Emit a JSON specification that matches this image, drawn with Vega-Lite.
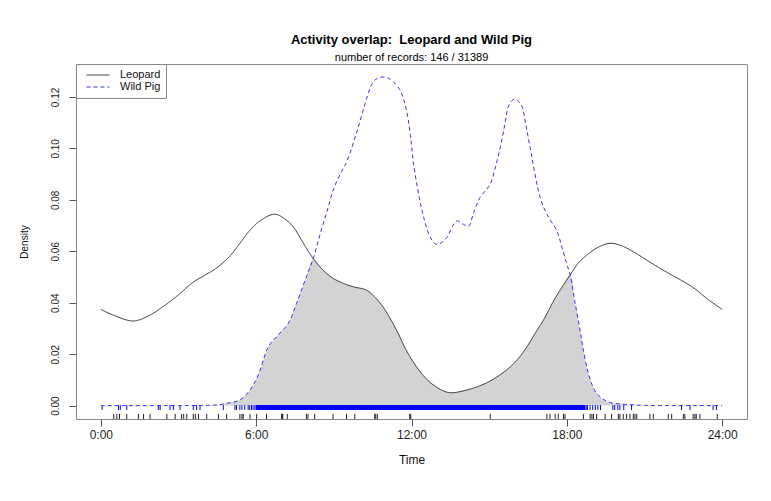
{
  "$schema": "https://vega.github.io/schema/vega-lite/v6.json",
  "width": 671,
  "height": 355,
  "autosize": {"type": "none"},
  "padding": {"left": 76, "top": 64, "right": 24, "bottom": 82},
  "background": "white",
  "title": {
    "text": "Activity overlap:\u00a0\u00a0Leopard and Wild Pig",
    "subtitle": "number of records: 146 / 31389",
    "anchor": "middle",
    "frame": "group",
    "font": "Liberation Sans",
    "fontSize": 13,
    "fontWeight": "bold",
    "color": "black",
    "subtitleFont": "Liberation Sans",
    "subtitleFontSize": 11,
    "subtitleColor": "black",
    "offset": 1,
    "subtitlePadding": 5
  },
  "config": {
    "view": {"stroke": "#888", "strokeWidth": 1},
    "axis": {"grid": false, "labelFont": "Liberation Sans", "titleFont": "Liberation Sans", "labelColor": "#222", "titleColor": "#111", "titleFontWeight": "normal", "tickColor": "#555", "domain": false},
    "legend": {"labelFont": "Liberation Sans"}
  },
  "datasets": {
    "curves": [
      {"hour": 0, "density": 0.0374, "series": "Leopard"},
      {"hour": 0.5, "density": 0.0351, "series": "Leopard"},
      {"hour": 1.26, "density": 0.0329, "series": "Leopard"},
      {"hour": 1.9, "density": 0.0352, "series": "Leopard"},
      {"hour": 2.4, "density": 0.0385, "series": "Leopard"},
      {"hour": 2.93, "density": 0.0425, "series": "Leopard"},
      {"hour": 3.57, "density": 0.048, "series": "Leopard"},
      {"hour": 4.0, "density": 0.0506, "series": "Leopard"},
      {"hour": 4.47, "density": 0.0535, "series": "Leopard"},
      {"hour": 4.99, "density": 0.0582, "series": "Leopard"},
      {"hour": 5.4, "density": 0.0635, "series": "Leopard"},
      {"hour": 5.76, "density": 0.0682, "series": "Leopard"},
      {"hour": 6.2, "density": 0.0722, "series": "Leopard"},
      {"hour": 6.7, "density": 0.0744, "series": "Leopard"},
      {"hour": 7.05, "density": 0.073, "series": "Leopard"},
      {"hour": 7.43, "density": 0.0695, "series": "Leopard"},
      {"hour": 7.8, "density": 0.0635, "series": "Leopard"},
      {"hour": 8.2, "density": 0.0572, "series": "Leopard"},
      {"hour": 8.6, "density": 0.0525, "series": "Leopard"},
      {"hour": 8.97, "density": 0.0495, "series": "Leopard"},
      {"hour": 9.4, "density": 0.0474, "series": "Leopard"},
      {"hour": 9.75, "density": 0.0462, "series": "Leopard"},
      {"hour": 10.26, "density": 0.0449, "series": "Leopard"},
      {"hour": 10.6, "density": 0.042, "series": "Leopard"},
      {"hour": 10.9, "density": 0.0384, "series": "Leopard"},
      {"hour": 11.42, "density": 0.0294, "series": "Leopard"},
      {"hour": 11.8, "density": 0.0215, "series": "Leopard"},
      {"hour": 12.2, "density": 0.015, "series": "Leopard"},
      {"hour": 12.5, "density": 0.0112, "series": "Leopard"},
      {"hour": 12.85, "density": 0.008, "series": "Leopard"},
      {"hour": 13.43, "density": 0.0051, "series": "Leopard"},
      {"hour": 14.14, "density": 0.0061, "series": "Leopard"},
      {"hour": 14.91, "density": 0.0089, "series": "Leopard"},
      {"hour": 15.68, "density": 0.0139, "series": "Leopard"},
      {"hour": 16.1, "density": 0.018, "series": "Leopard"},
      {"hour": 16.46, "density": 0.0229, "series": "Leopard"},
      {"hour": 16.8, "density": 0.0285, "series": "Leopard"},
      {"hour": 17.1, "density": 0.0333, "series": "Leopard"},
      {"hour": 17.45, "density": 0.04, "series": "Leopard"},
      {"hour": 17.74, "density": 0.0449, "series": "Leopard"},
      {"hour": 18.13, "density": 0.0508, "series": "Leopard"},
      {"hour": 18.45, "density": 0.0555, "series": "Leopard"},
      {"hour": 18.77, "density": 0.0585, "series": "Leopard"},
      {"hour": 19.2, "density": 0.0615, "series": "Leopard"},
      {"hour": 19.67, "density": 0.0631, "series": "Leopard"},
      {"hour": 20.1, "density": 0.0622, "series": "Leopard"},
      {"hour": 20.57, "density": 0.0598, "series": "Leopard"},
      {"hour": 21.1, "density": 0.0565, "series": "Leopard"},
      {"hour": 21.6, "density": 0.0534, "series": "Leopard"},
      {"hour": 22.1, "density": 0.0505, "series": "Leopard"},
      {"hour": 22.63, "density": 0.0475, "series": "Leopard"},
      {"hour": 23.0, "density": 0.045, "series": "Leopard"},
      {"hour": 23.4, "density": 0.0417, "series": "Leopard"},
      {"hour": 24.0, "density": 0.0374, "series": "Leopard"},
      {"hour": 0, "density": 0, "series": "Wild Pig"},
      {"hour": 1, "density": 0, "series": "Wild Pig"},
      {"hour": 2, "density": 0, "series": "Wild Pig"},
      {"hour": 3, "density": 0, "series": "Wild Pig"},
      {"hour": 4, "density": 0.0001, "series": "Wild Pig"},
      {"hour": 4.5, "density": 0.0003, "series": "Wild Pig"},
      {"hour": 4.86, "density": 0.0009, "series": "Wild Pig"},
      {"hour": 5.37, "density": 0.0022, "series": "Wild Pig"},
      {"hour": 5.76, "density": 0.0061, "series": "Wild Pig"},
      {"hour": 6.08, "density": 0.0119, "series": "Wild Pig"},
      {"hour": 6.47, "density": 0.0229, "series": "Wild Pig"},
      {"hour": 6.79, "density": 0.0268, "series": "Wild Pig"},
      {"hour": 7.24, "density": 0.032, "series": "Wild Pig"},
      {"hour": 7.56, "density": 0.0398, "series": "Wild Pig"},
      {"hour": 7.94, "density": 0.0501, "series": "Wild Pig"},
      {"hour": 8.2, "density": 0.057, "series": "Wild Pig"},
      {"hour": 8.48, "density": 0.067, "series": "Wild Pig"},
      {"hour": 8.75, "density": 0.076, "series": "Wild Pig"},
      {"hour": 9.0, "density": 0.0845, "series": "Wild Pig"},
      {"hour": 9.3, "density": 0.091, "series": "Wild Pig"},
      {"hour": 9.51, "density": 0.0951, "series": "Wild Pig"},
      {"hour": 9.9, "density": 0.1068, "series": "Wild Pig"},
      {"hour": 10.28, "density": 0.1198, "series": "Wild Pig"},
      {"hour": 10.5, "density": 0.1255, "series": "Wild Pig"},
      {"hour": 10.73, "density": 0.1275, "series": "Wild Pig"},
      {"hour": 11.0, "density": 0.1276, "series": "Wild Pig"},
      {"hour": 11.18, "density": 0.1269, "series": "Wild Pig"},
      {"hour": 11.4, "density": 0.1248, "series": "Wild Pig"},
      {"hour": 11.57, "density": 0.1225, "series": "Wild Pig"},
      {"hour": 11.8, "density": 0.115, "series": "Wild Pig"},
      {"hour": 11.96, "density": 0.105, "series": "Wild Pig"},
      {"hour": 12.08, "density": 0.0939, "series": "Wild Pig"},
      {"hour": 12.3, "density": 0.081, "series": "Wild Pig"},
      {"hour": 12.47, "density": 0.0732, "series": "Wild Pig"},
      {"hour": 12.7, "density": 0.066, "series": "Wild Pig"},
      {"hour": 12.92, "density": 0.0628, "series": "Wild Pig"},
      {"hour": 13.1, "density": 0.063, "series": "Wild Pig"},
      {"hour": 13.37, "density": 0.0654, "series": "Wild Pig"},
      {"hour": 13.6, "density": 0.07, "series": "Wild Pig"},
      {"hour": 13.76, "density": 0.0718, "series": "Wild Pig"},
      {"hour": 14.0, "density": 0.0705, "series": "Wild Pig"},
      {"hour": 14.2, "density": 0.0697, "series": "Wild Pig"},
      {"hour": 14.4, "density": 0.075, "series": "Wild Pig"},
      {"hour": 14.65, "density": 0.0809, "series": "Wild Pig"},
      {"hour": 15.04, "density": 0.0861, "series": "Wild Pig"},
      {"hour": 15.25, "density": 0.093, "series": "Wild Pig"},
      {"hour": 15.43, "density": 0.1004, "series": "Wild Pig"},
      {"hour": 15.6, "density": 0.109, "series": "Wild Pig"},
      {"hour": 15.75, "density": 0.1165, "series": "Wild Pig"},
      {"hour": 15.9, "density": 0.1188, "series": "Wild Pig"},
      {"hour": 16.0, "density": 0.1191, "series": "Wild Pig"},
      {"hour": 16.1, "density": 0.1185, "series": "Wild Pig"},
      {"hour": 16.26, "density": 0.1165, "series": "Wild Pig"},
      {"hour": 16.42, "density": 0.109, "series": "Wild Pig"},
      {"hour": 16.58, "density": 0.1004, "series": "Wild Pig"},
      {"hour": 16.97, "density": 0.0809, "series": "Wild Pig"},
      {"hour": 17.23, "density": 0.0744, "series": "Wild Pig"},
      {"hour": 17.61, "density": 0.068, "series": "Wild Pig"},
      {"hour": 17.8, "density": 0.062, "series": "Wild Pig"},
      {"hour": 18.0, "density": 0.055, "series": "Wild Pig"},
      {"hour": 18.13, "density": 0.0508, "series": "Wild Pig"},
      {"hour": 18.3, "density": 0.041, "series": "Wild Pig"},
      {"hour": 18.51, "density": 0.0294, "series": "Wild Pig"},
      {"hour": 18.65, "density": 0.021, "series": "Wild Pig"},
      {"hour": 18.83, "density": 0.0126, "series": "Wild Pig"},
      {"hour": 19.0, "density": 0.0075, "series": "Wild Pig"},
      {"hour": 19.15, "density": 0.0048, "series": "Wild Pig"},
      {"hour": 19.4, "density": 0.0025, "series": "Wild Pig"},
      {"hour": 19.67, "density": 0.0012, "series": "Wild Pig"},
      {"hour": 20.1, "density": 0.0006, "series": "Wild Pig"},
      {"hour": 20.56, "density": 0.0003, "series": "Wild Pig"},
      {"hour": 21, "density": 0.0001, "series": "Wild Pig"},
      {"hour": 22, "density": 0, "series": "Wild Pig"},
      {"hour": 23, "density": 0, "series": "Wild Pig"},
      {"hour": 24, "density": 0, "series": "Wild Pig"}
    ],
    "overlap": [
      {"hour": 4.0, "density": 0.0001},
      {"hour": 4.5, "density": 0.0003},
      {"hour": 4.86, "density": 0.0009},
      {"hour": 5.37, "density": 0.0022},
      {"hour": 5.76, "density": 0.0061},
      {"hour": 6.08, "density": 0.0119},
      {"hour": 6.47, "density": 0.0229},
      {"hour": 6.79, "density": 0.0268},
      {"hour": 7.24, "density": 0.032},
      {"hour": 7.56, "density": 0.0398},
      {"hour": 7.94, "density": 0.0501},
      {"hour": 8.2, "density": 0.057},
      {"hour": 8.6, "density": 0.0525},
      {"hour": 8.97, "density": 0.0495},
      {"hour": 9.4, "density": 0.0474},
      {"hour": 9.75, "density": 0.0462},
      {"hour": 10.26, "density": 0.0449},
      {"hour": 10.6, "density": 0.042},
      {"hour": 10.9, "density": 0.0384},
      {"hour": 11.42, "density": 0.0294},
      {"hour": 11.8, "density": 0.0215},
      {"hour": 12.2, "density": 0.015},
      {"hour": 12.5, "density": 0.0112},
      {"hour": 12.85, "density": 0.008},
      {"hour": 13.43, "density": 0.0051},
      {"hour": 14.14, "density": 0.0061},
      {"hour": 14.91, "density": 0.0089},
      {"hour": 15.68, "density": 0.0139},
      {"hour": 16.1, "density": 0.018},
      {"hour": 16.46, "density": 0.0229},
      {"hour": 16.8, "density": 0.0285},
      {"hour": 17.1, "density": 0.0333},
      {"hour": 17.45, "density": 0.04},
      {"hour": 17.74, "density": 0.0449},
      {"hour": 18.13, "density": 0.0508},
      {"hour": 18.3, "density": 0.041},
      {"hour": 18.51, "density": 0.0294},
      {"hour": 18.65, "density": 0.021},
      {"hour": 18.83, "density": 0.0126},
      {"hour": 19.0, "density": 0.0075},
      {"hour": 19.15, "density": 0.0048},
      {"hour": 19.4, "density": 0.0025},
      {"hour": 19.67, "density": 0.0012},
      {"hour": 20.1, "density": 0.0006},
      {"hour": 20.56, "density": 0.0003},
      {"hour": 21, "density": 0.0001}
    ],
    "band": [
      {"hour": 5.98, "hour2": 18.72}
    ],
    "pigrug": [
      {"hour": 0.05}, {"hour": 0.68}, {"hour": 0.75}, {"hour": 1.0}, {"hour": 2.22}, {"hour": 2.29},
      {"hour": 2.67}, {"hour": 2.8}, {"hour": 3.06}, {"hour": 3.57}, {"hour": 3.7}, {"hour": 3.83},
      {"hour": 4.73}, {"hour": 5.18}, {"hour": 5.24}, {"hour": 5.37}, {"hour": 5.45}, {"hour": 5.56},
      {"hour": 5.69}, {"hour": 5.75}, {"hour": 5.82}, {"hour": 5.88}, {"hour": 5.95},
      {"hour": 18.75}, {"hour": 18.8}, {"hour": 18.9}, {"hour": 19.0}, {"hour": 19.1}, {"hour": 19.2},
      {"hour": 19.3}, {"hour": 19.78}, {"hour": 19.85}, {"hour": 19.97}, {"hour": 20.05}, {"hour": 20.2},
      {"hour": 20.5}, {"hour": 22.43}, {"hour": 22.76}, {"hour": 23.65}, {"hour": 23.78}
    ],
    "leorug": [
      {"hour": 0.5}, {"hour": 0.62}, {"hour": 0.72}, {"hour": 1.0}, {"hour": 1.45}, {"hour": 1.65},
      {"hour": 1.9}, {"hour": 2.55}, {"hour": 2.87}, {"hour": 3.12}, {"hour": 3.2}, {"hour": 3.32},
      {"hour": 3.57}, {"hour": 3.65}, {"hour": 3.77}, {"hour": 4.09}, {"hour": 4.54}, {"hour": 4.86},
      {"hour": 5.37}, {"hour": 5.45}, {"hour": 5.5}, {"hour": 5.76}, {"hour": 6.02}, {"hour": 6.4},
      {"hour": 6.98}, {"hour": 7.0}, {"hour": 7.03}, {"hour": 7.2}, {"hour": 7.94}, {"hour": 8.0},
      {"hour": 8.26}, {"hour": 8.97}, {"hour": 9.49}, {"hour": 9.81}, {"hour": 10.58}, {"hour": 10.62},
      {"hour": 10.68}, {"hour": 11.93}, {"hour": 11.97}, {"hour": 15.04}, {"hour": 17.23}, {"hour": 17.35},
      {"hour": 17.55}, {"hour": 17.67}, {"hour": 17.87}, {"hour": 17.93}, {"hour": 18.64}, {"hour": 18.9},
      {"hour": 18.97}, {"hour": 19.03}, {"hour": 19.15}, {"hour": 19.48}, {"hour": 19.73}, {"hour": 19.99},
      {"hour": 20.05}, {"hour": 20.18}, {"hour": 20.31}, {"hour": 20.44}, {"hour": 20.57}, {"hour": 20.63},
      {"hour": 20.7}, {"hour": 21.21}, {"hour": 21.34}, {"hour": 21.92}, {"hour": 22.05}, {"hour": 22.5},
      {"hour": 22.56}, {"hour": 22.88}, {"hour": 22.95}, {"hour": 23.0}, {"hour": 23.14}, {"hour": 23.81}
    ]
  },
  "encoding": {
    "x": {
      "field": "hour",
      "type": "quantitative",
      "scale": {"domain": [-0.96, 24.96], "nice": false, "zero": false},
      "axis": {
        "title": "Time",
        "values": [0, 6, 12, 18, 24],
        "labelExpr": "datum.value + ':00'",
        "tickSize": 7,
        "labelPadding": 3,
        "labelFontSize": 12,
        "titleFontSize": 12,
        "titlePadding": 14
      }
    }
  },
  "layer": [
    {
      "data": {"name": "overlap"},
      "mark": {"type": "area", "color": "#d3d3d3", "interpolate": "catmull-rom"},
      "encoding": {
        "y": {
          "field": "density",
          "type": "quantitative",
          "scale": {"domain": [-0.0052, 0.1328], "nice": false, "zero": false},
          "axis": {
            "title": "Density",
            "values": [0, 0.02, 0.04, 0.06, 0.08, 0.1, 0.12],
            "format": ".2f",
            "tickSize": 7,
            "labelAngle": -90,
            "labelAlign": "center",
            "labelBaseline": "bottom",
            "labelPadding": 9,
            "labelFontSize": 10,
            "titleFontSize": 10,
            "titlePadding": 21
          }
        }
      }
    },
    {
      "data": {"name": "band"},
      "mark": {"type": "rect", "color": "blue"},
      "encoding": {
        "x2": {"field": "hour2"},
        "y": {"datum": 0.0002},
        "y2": {"datum": -0.0017}
      }
    },
    {
      "data": {"name": "pigrug"},
      "mark": {"type": "rule", "color": "blue", "strokeWidth": 1},
      "encoding": {
        "y": {"datum": 0.0002},
        "y2": {"datum": -0.0017}
      }
    },
    {
      "data": {"name": "leorug"},
      "mark": {"type": "rule", "color": "#222", "strokeWidth": 1},
      "encoding": {
        "y": {"datum": -0.0032},
        "y2": {"datum": -0.0052}
      }
    },
    {
      "data": {"name": "curves"},
      "mark": {"type": "line", "interpolate": "catmull-rom", "strokeWidth": 1},
      "encoding": {
        "y": {"field": "density", "type": "quantitative"},
        "color": {
          "field": "series",
          "type": "nominal",
          "scale": {"domain": ["Leopard", "Wild Pig"], "range": ["#333333", "#3333ff"]},
          "legend": {
            "title": null,
            "orient": "top-left",
            "offset": 0,
            "fillColor": "white",
            "strokeColor": "#888",
            "padding": 5,
            "clipHeight": 12,
            "symbolType": "stroke",
            "symbolSize": 529,
            "symbolStrokeWidth": 1,
            "symbolOffset": 5,
            "labelOffset": 10,
            "labelFontSize": 11,
            "labelColor": "#111",
            "rowPadding": 0
          }
        },
        "strokeDash": {
          "field": "series",
          "type": "nominal",
          "scale": {"domain": ["Leopard", "Wild Pig"], "range": [[1, 0], [4, 3]]},
          "legend": {
            "title": null,
            "orient": "top-left",
            "offset": 0,
            "fillColor": "white",
            "strokeColor": "#888",
            "padding": 5,
            "clipHeight": 12,
            "symbolType": "stroke",
            "symbolSize": 529,
            "symbolStrokeWidth": 1,
            "symbolOffset": 5,
            "labelOffset": 10,
            "labelFontSize": 11,
            "labelColor": "#111",
            "rowPadding": 0
          }
        }
      }
    },
    {
      "mark": {"type": "text", "font": "Liberation Sans", "fontSize": 9, "color": "#222", "baseline": "middle", "align": "center"},
      "encoding": {
        "x": {"datum": 12},
        "y": {"datum": 0.1293},
        "text": {"value": "Dhat1=0.36"}
      }
    }
  ]
}
